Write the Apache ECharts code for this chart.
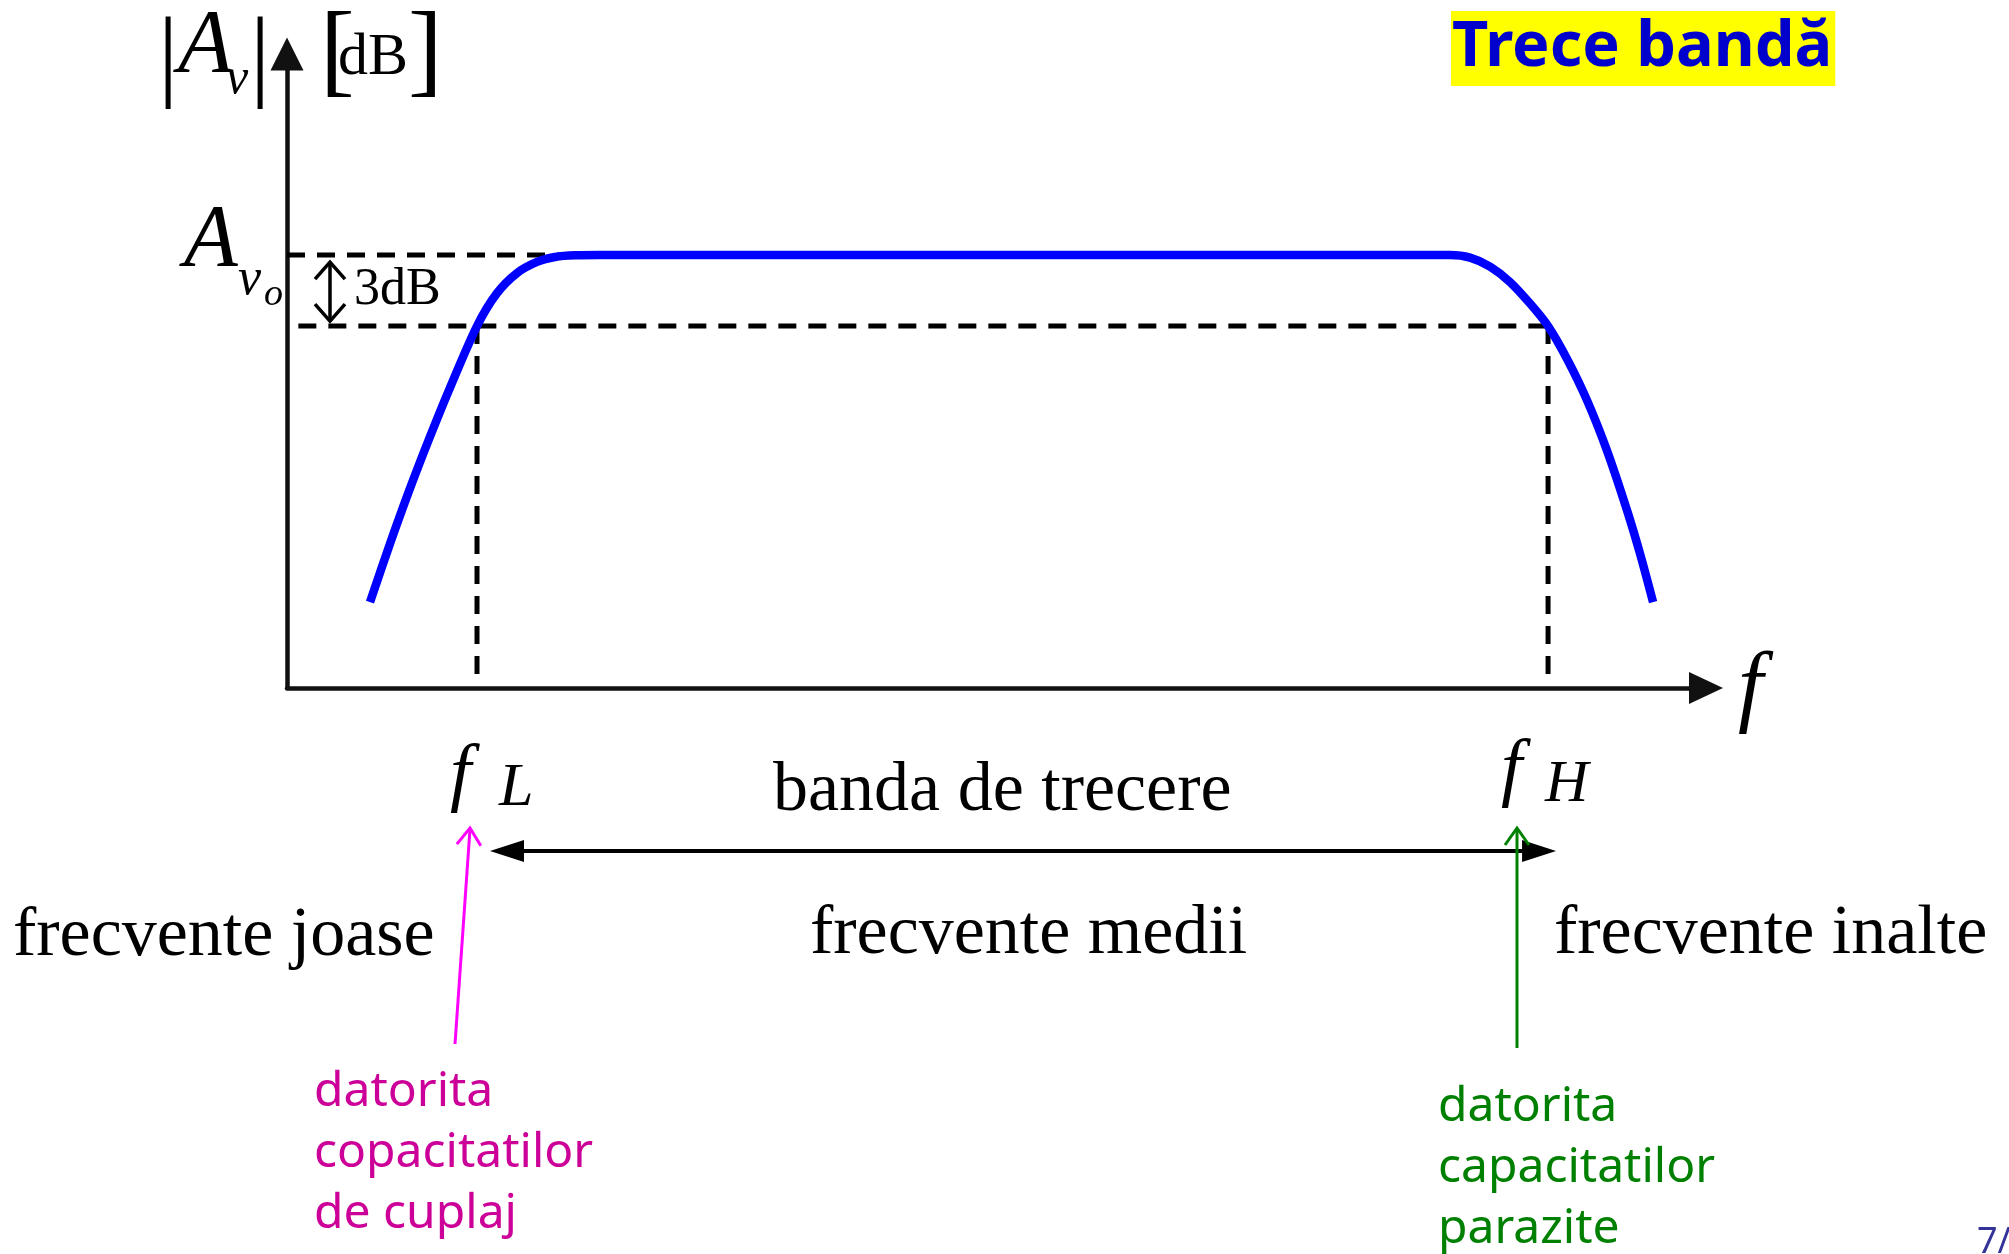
<!DOCTYPE html>
<html>
<head>
<meta charset="utf-8">
<script src="https://cdn.jsdelivr.net/npm/echarts/dist/echarts.min.js"></script>
<style>
html,body{margin:0;padding:0;background:#fff;overflow:hidden}
#c{width:2009px;height:1254px}
</style>
</head>
<body>
<div id="c"></div>
<script>
// ---- data ----
// relative frequency (axis units 0..100, linear) and gain in dB above the axis origin
const freq   = [5.85, 7.26, 8.67, 10.08, 11.49, 13.39, 14.80, 16.21, 17.62, 18.89, 20.30, 22.0,
                30, 40, 50, 60, 70, 76, 79, 81.96, 83.37, 84.78, 86.19, 87.60, 88.87, 90.20, 91.61, 93.02, 94.43, 95.35, 96.27];
const gainDb = [3.63, 6.10, 8.44, 10.63, 12.70, 15.30, 16.69, 17.54, 18.01, 18.22, 18.29, 18.30,
                18.30, 18.30, 18.30, 18.30, 18.30, 18.30, 18.30, 18.30, 18.19, 17.81, 17.16, 16.25, 15.30, 13.92, 12.17, 10.04, 7.52, 5.68, 3.63];
const AVO = 18.3;          // mid-band gain
const CUT = AVO - 3;       // -3 dB level
const FL = 13.39;          // lower cut-off frequency
const FH = 88.87;          // upper cut-off frequency
const avoDashEnd = 19.5;   // where the Avo dashed guide ends
const cutDashStart = 0.8;  // where the -3dB dashed guide starts
const gapArrowX = 3.03;    // x of the 3dB double arrow
const bandLabels = ['frecvente joase', 'frecvente medii', 'frecvente inalte'];
const noteLow  = ['datorita', 'copacitatilor', 'de cuplaj'];
const noteHigh = ['datorita', 'capacitatilor', 'parazite'];

// ---- chart ----
const chart = echarts.init(document.getElementById('c'), null, {renderer: 'canvas'});
const curve = freq.map((f, i) => [f, gainDb[i]]);
const dashStyle = {type: [18, 12], width: 5, color: '#000'};
function dashed(data) {
  return {type: 'line', data: data, symbol: 'none', silent: true, lineStyle: dashStyle, z: 2};
}
const axisLineStyle = {color: '#111', width: 4.5};

chart.setOption({
  animation: false,
  backgroundColor: '#fff',
  title: {
    text: 'Trece bandă', left: 1451, top: 11,
    backgroundColor: '#ffff00', padding: [6, 3, 6, 1],
    textStyle: {fontFamily: '"Noto Sans", sans-serif', fontWeight: 'bold', fontSize: 63, lineHeight: 63, color: '#0000cc'}
  },
  grid: {left: 287, right: 303, top: 54, bottom: 566, containLabel: false},
  xAxis: {
    type: 'value', min: 0, max: 100,
    axisLine: {show: true, onZero: false, symbol: ['none', 'triangle'], symbolSize: [32, 34], lineStyle: axisLineStyle},
    axisTick: {show: false}, axisLabel: {show: false}, splitLine: {show: false}
  },
  yAxis: {
    type: 'value', min: 0, max: 26.8,
    axisLine: {show: true, symbol: ['none', 'triangle'], symbolSize: [33, 33], lineStyle: axisLineStyle},
    axisTick: {show: false}, axisLabel: {show: false}, splitLine: {show: false}
  },
  series: [
    dashed([[0, AVO], [avoDashEnd, AVO]]),
    dashed([[cutDashStart, CUT], [FH, CUT]]),
    dashed([[FL, CUT], [FL, 0.3]]),
    dashed([[FH, CUT], [FH, 0.3]]),
    {type: 'line', data: curve, smooth: 0.3, symbol: 'none', z: 3,
     lineStyle: {color: '#0000ff', width: 8.5, cap: 'butt'}}
  ]
});

// ---- annotations ----
const px = (x, y) => chart.convertToPixel({gridIndex: 0}, [x, y]);
const K = {serif: 0.3375, sans: 0.388};
const FAM = {serif: '"Liberation Serif", "Times New Roman", serif', sans: '"Noto Sans", sans-serif'};
function T(text, x, base, size, o) {
  o = o || {};
  const fam = o.fam || 'serif';
  return {
    type: 'text', x: x, y: base - K[fam] * size, z: 10, silent: true,
    style: {
      text: text, fontFamily: FAM[fam], fontSize: size,
      fontStyle: o.italic ? 'italic' : 'normal', fontWeight: o.bold ? 'bold' : 'normal',
      fill: o.color || '#000', align: o.align || 'left', verticalAlign: 'middle'
    }
  };
}
function seg(x1, y1, x2, y2, color, w) {
  return {type: 'line', z: 10, silent: true, shape: {x1, y1, x2, y2}, style: {stroke: color, lineWidth: w}};
}
function chevron(tip, from, len, half, color, w) {
  const dx = tip[0] - from[0], dy = tip[1] - from[1];
  const d = Math.hypot(dx, dy), ux = dx / d, uy = dy / d;
  const bx = tip[0] - ux * len, by = tip[1] - uy * len;
  return {type: 'polyline', z: 10, silent: true,
    shape: {points: [[bx - uy * half, by + ux * half], tip, [bx + uy * half, by - ux * half]]},
    style: {stroke: color, lineWidth: w, fill: null}};
}
function head(tip, dir, len, half) {
  return {type: 'polygon', z: 10, silent: true,
    shape: {points: [tip, [tip[0] - dir * len, tip[1] - half], [tip[0] - dir * len, tip[1] + half]]},
    style: {fill: '#000'}};
}

const pAvo = px(gapArrowX, AVO), pCut = px(gapArrowX, CUT);
const gx = pAvo[0], gTop = pAvo[1] + 7, gBot = pCut[1] - 5;
const pL = px(FL, 0), pH = px(FH, 0);
const bandY = 851;
const bandL = pL[0] + 13, bandR = pH[0] + 8;

const g = [];
// 3 dB double arrow
g.push(seg(gx, gTop, gx, gBot, '#000', 3.5));
g.push(chevron([gx, gTop], [gx, gBot], 17, 15, '#000', 3.5));
g.push(chevron([gx, gBot], [gx, gTop], 17, 15, '#000', 3.5));
g.push(T('3dB', gx + 24, 308, 52));
// axis titles
g.push(T('|', 158, 95, 101));
g.push(T('A', 178, 79, 90, {italic: true}));
g.push(T('v', 226, 97, 50, {italic: true}));
g.push(T('|', 250, 95, 101));
g.push(T('[', 320, 91, 104));
g.push(T('dB', 338, 78, 60));
g.push(T(']', 408, 91, 104));
g.push(T('A', 184, 272, 88, {italic: true}));
g.push(T('v', 238, 298, 52, {italic: true}));
g.push(T('o', 264, 308, 38, {italic: true}));
g.push(T('f', 1738, 722, 90, {italic: true}));
// cut-off frequency labels
g.push(T('f', pL[0] - 27, 803, 76, {italic: true}));
g.push(T('L', pL[0] + 22, 810, 62, {italic: true}));
g.push(T('f', pH[0] - 47, 798, 76, {italic: true}));
g.push(T('H', pH[0] - 3, 805, 60, {italic: true}));
// pass band arrow
g.push(seg(bandL + 20, bandY, bandR - 20, bandY, '#000', 4));
g.push(head([bandL, bandY], -1, 34, 11));
g.push(head([bandR, bandY], 1, 34, 11));
g.push(T('banda de trecere', 773, 815, 70));
g.push(T(bandLabels[0], 13, 960, 70));
g.push(T(bandLabels[1], 810, 958, 70));
g.push(T(bandLabels[2], 1554, 958, 70));
// notes
const mag = '#cc0099', grn = '#008000';
g.push(seg(455, 1044, 470, 829, '#ff00ff', 3));
g.push(chevron([470, 828], [455, 1044], 17, 12, '#ff00ff', 3));
g.push(seg(1517, 1048, 1517, 829, grn, 3));
g.push(chevron([1517, 828], [1517, 1048], 17, 12, grn, 3));
noteLow.forEach((s, i) => g.push(T(s, 314, 1111 + i * 61, 48, {fam: 'sans', color: mag})));
noteHigh.forEach((s, i) => g.push(T(s, 1438, 1126 + i * 61, 48, {fam: 'sans', color: grn})));
g.push(T('7/', 1977, 1257, 36, {fam: 'sans', color: '#333399'}));

chart.setOption({graphic: {elements: g}});
</script>
</body>
</html>
